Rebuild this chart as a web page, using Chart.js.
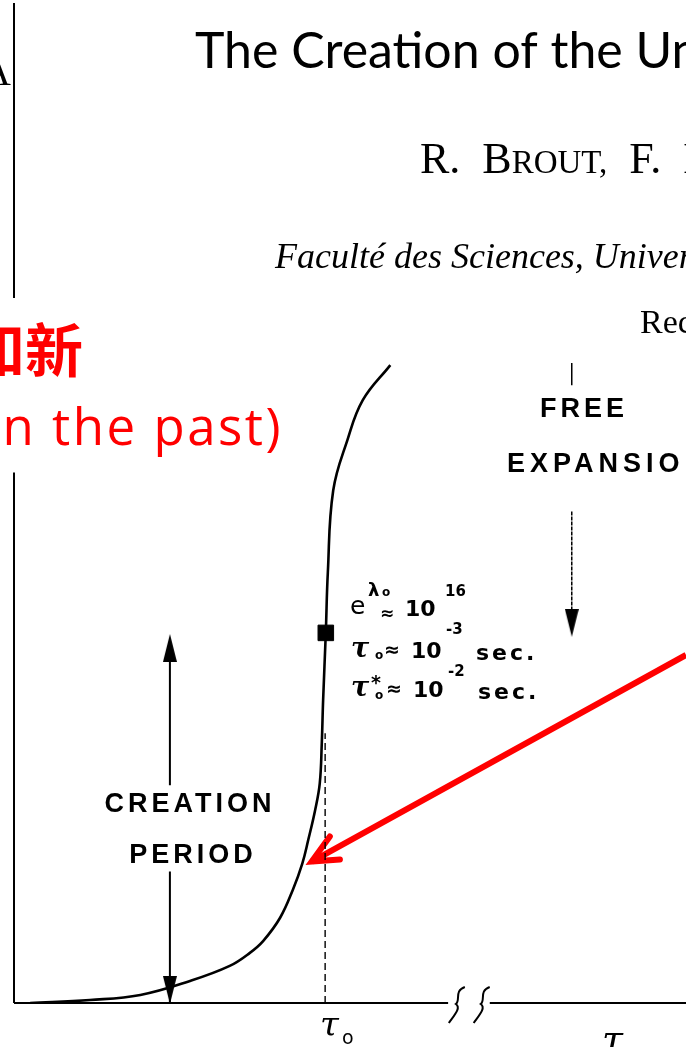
<!DOCTYPE html>
<html>
<head>
<meta charset="utf-8">
<script src="https://cdn.jsdelivr.net/npm/chart.js"></script>
<style>
  html, body { margin: 0; padding: 0; background: #fff; overflow: hidden; }
  canvas { display: block; }
</style>
</head>
<body>
<canvas id="creationChart" width="686" height="1047"></canvas>
<script>
// scale factor a(tau) during the creation period (x: tau, y: size)
const curveX = [2.4, 11.3, 18.8, 26.2, 32.1, 35.1, 37.1, 39.6, 41.5, 42.9, 43.8, 44.8, 45.5, 45.8, 46.0, 46.4, 46.7, 47.5, 49.6, 51.9, 56.0];
const curveY = [0, 0.3, 0.8, 2.2, 3.7, 5.0, 6.2, 8.5, 11.3, 13.9, 16.3, 19.2, 21.9, 25.9, 30.2, 36.9, 42.9, 51.1, 56.1, 60.1, 63.6];

// marked point on the curve and the tau_0 drop line
const markX = [46.4];
const markY = [36.9];
const tau0X = [46.3, 46.3];
const tau0Y = [0, 26.9];

// "creation period" double arrow
const creationX = 23.2;
const creationUpperY = [34.0, 21.7];
const creationLowerY = [13.1, 0];
const creationHeadsY = [35.4, 1.3];

// "free expansion" arrow
const freeX = 83.0;
const freeTickY = [63.8, 61.6];
const freeShaftY = [49.0, 38.5];
const freeHeadY = [37.9];

// red pointer
const pointerX = [100, 44.3];
const pointerY = [34.7, 14.1];
const pointerHeadX = [47.0, 44.3, 48.5];
const pointerHeadY = [16.6, 14.1, 14.3];

function pts(xs, ys) {
  return xs.map((x, i) => ({ x: x, y: ys[i] }));
}

function makeHead(up) {
  const c = document.createElement('canvas');
  c.width = 14; c.height = 28;
  const g = c.getContext('2d');
  g.fillStyle = '#000';
  g.beginPath();
  if (up) { g.moveTo(7, 0); g.lineTo(14, 28); g.lineTo(0, 28); }
  else { g.moveTo(0, 0); g.lineTo(14, 0); g.lineTo(7, 28); }
  g.closePath();
  g.fill();
  return c;
}
const headUp = makeHead(true);
const headDown = makeHead(false);

function txt(ctx, s, x, y, font, opts) {
  opts = opts || {};
  ctx.save();
  ctx.font = font;
  ctx.fillStyle = opts.color || '#000';
  ctx.textAlign = opts.align || 'left';
  ctx.textBaseline = 'alphabetic';
  ctx.letterSpacing = opts.spacing || '0px';
  ctx.fillText(s, x, y);
  const w = ctx.measureText(s).width;
  ctx.restore();
  return w;
}

// axes with their breaks, plus the squiggles on the time axis
const axesPlugin = {
  id: 'brokenAxes',
  beforeDatasetsDraw(chart) {
    const ctx = chart.ctx, xs = chart.scales.x, ys = chart.scales.y;
    const px = v => xs.getPixelForValue(v), py = v => ys.getPixelForValue(v);
    ctx.save();
    ctx.strokeStyle = '#000';
    ctx.lineWidth = 2;
    ctx.beginPath();
    // y axis (interrupted)
    ctx.moveTo(px(0), py(52.9)); ctx.lineTo(px(0), py(0));
    ctx.moveTo(px(0), py(70.3)); ctx.lineTo(px(0), py(99.7));
    // x axis (interrupted)
    ctx.moveTo(px(0), py(0)); ctx.lineTo(px(64.6), py(0));
    ctx.moveTo(px(70.8), py(0)); ctx.lineTo(px(100), py(0));
    ctx.stroke();
    [65.9, 69.6].forEach(v => {
      const x = px(v), y = py(0);
      ctx.beginPath();
      ctx.moveTo(x + 8, y - 16);
      ctx.bezierCurveTo(x - 3, y - 12, x + 4, y - 3, x - 1, y + 1);
      ctx.bezierCurveTo(x + 5, y + 5, x - 4, y + 14, x - 8, y + 20);
      ctx.stroke();
    });
    ctx.restore();
  },
  afterDatasetsDraw(chart) {
    const ctx = chart.ctx;
    const hand = "bold 22px 'DejaVu Sans'";
    const handSm = "bold 15px 'DejaVu Sans'";

    // page heading text
    txt(ctx, 'A', -18, 85, "40px 'Liberation Serif'");
    txt(ctx, 'The Creation of the Universe', 195, 68, "50px Lato");
    let x = 420;
    x += txt(ctx, 'R.  B', x, 173, "44px 'Liberation Serif'");
    x += txt(ctx, 'ROUT,', x, 173, "33px 'Liberation Serif'");
    x += txt(ctx, '  F.  E', x, 173, "44px 'Liberation Serif'");
    txt(ctx, 'Faculté des Sciences, Université Libre de Bruxelles', 275, 268, "italic 36px 'Liberation Serif'");
    txt(ctx, 'Received', 640, 333, "34px 'Liberation Serif'");

    // handwritten values
    txt(ctx, 'e', 350, 614, "25px 'DejaVu Sans'");
    txt(ctx, 'λ', 368, 596, "bold 18px 'DejaVu Sans'");
    txt(ctx, 'o', 382, 596, "bold 12px 'DejaVu Sans'");
    txt(ctx, '≈', 380, 619, "bold 17px 'DejaVu Sans'");
    txt(ctx, '10', 405, 616, hand);
    txt(ctx, '16', 445, 596, handSm);

    txt(ctx, 'τ', 351, 657, "italic bold 27px 'DejaVu Serif'");
    txt(ctx, 'o', 375, 659, "bold 12px 'DejaVu Sans'");
    txt(ctx, '≈', 384, 656, "bold 19px 'DejaVu Sans'");
    txt(ctx, '10', 411, 658, hand);
    txt(ctx, '-3', 446, 634, handSm);
    txt(ctx, 'sec.', 476, 660, hand, { spacing: '3px' });

    txt(ctx, 'τ', 351, 696, "italic bold 27px 'DejaVu Serif'");
    txt(ctx, '*', 371, 689, "bold 19px 'DejaVu Sans'");
    txt(ctx, 'o', 375, 699, "bold 12px 'DejaVu Sans'");
    txt(ctx, '≈', 386, 695, "bold 19px 'DejaVu Sans'");
    txt(ctx, '10', 413, 697, hand);
    txt(ctx, '-2', 448, 676, handSm);
    txt(ctx, 'sec.', 478, 699, hand, { spacing: '3px' });

    // period labels
    const lab = "bold 27px 'Liberation Sans'";
    txt(ctx, 'CREATION', 190, 812, lab, { align: 'center', spacing: '4px' });
    txt(ctx, 'PERIOD', 193, 863, lab, { align: 'center', spacing: '4px' });
    txt(ctx, 'FREE', 584, 417, lab, { align: 'center', spacing: '4px' });
    txt(ctx, 'EXPANSION', 507, 472, lab, { spacing: '5px' });

    // time axis labels
    txt(ctx, 'τ', 320, 1036, "italic 34px 'DejaVu Serif'");
    txt(ctx, 'o', 342, 1044, "19px 'DejaVu Sans'");
    txt(ctx, 'τ', 602, 1052, "italic 38px 'DejaVu Serif'");

    // red overlay text
    txt(ctx, '温故知新', 83, 372, "bold 58px 'Noto Sans CJK SC'", { align: 'right', color: '#ff0000' });
    txt(ctx, '(the new is found in the past)', 283, 445, "51px 'Open Sans'", { align: 'right', color: '#ff0000', spacing: '2.5px' });
  }
};

const ctx = document.getElementById('creationChart').getContext('2d');
const creationChart = new Chart(ctx, {
  type: 'scatter',
  data: {
    datasets: [
      {
        data: pts(curveX, curveY),
        showLine: true, borderColor: '#000', borderWidth: 2.6,
        tension: 0.4, pointRadius: 0
      },
      {
        data: pts(tau0X, tau0Y),
        showLine: true, borderColor: '#000', borderWidth: 1.4,
        borderDash: [7, 4], pointRadius: 0
      },
      {
        data: pts(markX, markY),
        pointStyle: 'rect', pointRadius: 11, backgroundColor: '#000', borderColor: '#000'
      },
      {
        data: pts([creationX, creationX], creationUpperY),
        showLine: true, borderColor: '#000', borderWidth: 2, pointRadius: 0
      },
      {
        data: pts([creationX, creationX], creationLowerY),
        showLine: true, borderColor: '#000', borderWidth: 2, pointRadius: 0
      },
      {
        data: pts([creationX], [creationHeadsY[0]]),
        pointStyle: headUp, pointRadius: 10
      },
      {
        data: pts([creationX], [creationHeadsY[1]]),
        pointStyle: headDown, pointRadius: 10
      },
      {
        data: pts([freeX, freeX], freeTickY),
        showLine: true, borderColor: '#000', borderWidth: 1.5, pointRadius: 0
      },
      {
        data: pts([freeX, freeX], freeShaftY),
        showLine: true, borderColor: '#000', borderWidth: 1.5, borderDash: [4, 1], pointRadius: 0
      },
      {
        data: pts([freeX], freeHeadY),
        pointStyle: headDown, pointRadius: 10
      },
      {
        data: pts(pointerX, pointerY),
        showLine: true, borderColor: '#ff0000', borderWidth: 6, pointRadius: 0
      },
      {
        data: pts(pointerHeadX, pointerHeadY),
        showLine: true, borderColor: '#ff0000', borderWidth: 6,
        borderCapStyle: 'round', borderJoinStyle: 'miter', pointRadius: 0
      }
    ]
  },
  options: {
    responsive: false,
    animation: false,
    layout: { autoPadding: false, padding: { left: 14, top: 0, right: 0, bottom: 44 } },
    scales: {
      x: { type: 'linear', min: 0, max: 100, display: false },
      y: { type: 'linear', min: 0, max: 100, display: false }
    },
    plugins: {
      legend: { display: false },
      tooltip: { enabled: false }
    }
  },
  plugins: [axesPlugin]
});
</script>
</body>
</html>
